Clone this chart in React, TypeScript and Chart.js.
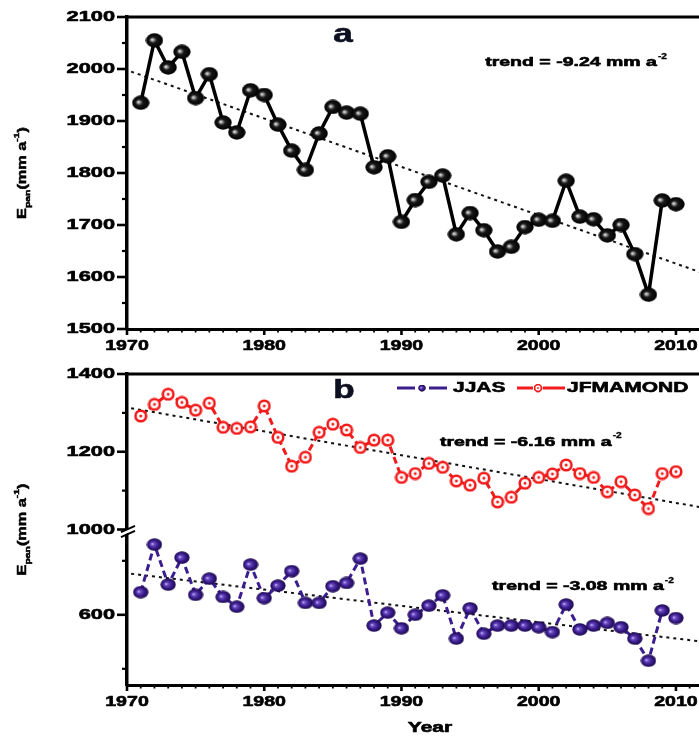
import React, { useEffect, useRef } from "react";
import { Chart, registerables } from "chart.js";

Chart.register(...registerables);

// ---------------- data ----------------
const years = [
  1971, 1972, 1973, 1974, 1975, 1976, 1977, 1978, 1979, 1980,
  1981, 1982, 1983, 1984, 1985, 1986, 1987, 1988, 1989, 1990,
  1991, 1992, 1993, 1994, 1995, 1996, 1997, 1998, 1999, 2000,
  2001, 2002, 2003, 2004, 2005, 2006, 2007, 2008, 2009, 2010,
];
const annualEpan = [
  1935, 2055, 2003, 2033, 1944, 1990, 1897, 1878, 1959, 1950,
  1893, 1843, 1806, 1876, 1927, 1916, 1914, 1811, 1832, 1706,
  1748, 1783, 1795, 1682, 1723, 1690, 1649, 1658, 1696, 1710,
  1708, 1785, 1716, 1711, 1680, 1700, 1644, 1566, 1747, 1740,
];
const jfmamond = [
  1292, 1322, 1348, 1327, 1307, 1325, 1263, 1260, 1264, 1318,
  1237, 1163, 1186, 1250, 1271, 1256, 1211, 1230, 1230, 1134,
  1144, 1170, 1160, 1125, 1114, 1132, 1071, 1083, 1119, 1134,
  1143, 1166, 1144, 1134, 1097, 1123, 1089, 1054, 1144, 1149,
];
const jjas = [
  642, 730, 656, 706, 637, 667, 633, 615, 693, 631,
  654, 681, 622, 622, 653, 659, 704, 580, 604, 575,
  600, 617, 636, 556, 612, 565, 580, 580, 580, 577,
  568, 619, 573, 580, 585, 577, 556, 515, 608, 594,
];
const trendYears = [1970.3, 2011.7];
const annualTrend = [1995, 1610];
const jfmamondTrend = [1312, 1058];
const jjasTrend = [676, 551];

const xMajorTicks = [1970, 1980, 1990, 2000, 2010];
const yMajorA = [1500, 1600, 1700, 1800, 1900, 2000, 2100];
const yMinorA = [1550, 1650, 1750, 1850, 1950, 2050];
const yMajorUp = [1000, 1200, 1400];
const yMinorUp = [1100, 1300];
const yMajorLow = [600];
const yMinorLow = [500, 700];

const trendTextA = "trend = -9.24 mm a";
const trendTextJF = "trend = -6.16 mm a";
const trendTextJJ = "trend = -3.08 mm a";
const trendSup = "-2";

// ---------------- styling helpers ----------------
const FONT = '"Liberation Sans", Arial, Helvetica, sans-serif';
const RED = "#f21a1a";
const PURPLE = "#3a1d8e";

function xMinorTicks(): number[] {
  const out: number[] = [];
  for (let y = 1971; y <= 2011; y++) if (y % 10 !== 0) out.push(y);
  return out;
}

function makeSphere(w: number, h: number, stops: [number, string][]) {
  const c = document.createElement("canvas");
  c.width = w;
  c.height = h;
  const g = c.getContext("2d")!;
  g.translate(w / 2, h / 2);
  g.scale(w / h, 1);
  const r = h / 2 - 0.3;
  const grad = g.createRadialGradient(-r * 0.3, -r * 0.1, 0, 0, 0, r);
  for (const [o, col] of stops) grad.addColorStop(o, col);
  g.fillStyle = grad;
  g.beginPath();
  g.arc(0, 0, r, 0, Math.PI * 2);
  g.fill();
  return c;
}

function makeRing(size: number, r: number, lw: number, dot: number) {
  const c = document.createElement("canvas");
  c.width = size;
  c.height = size;
  const g = c.getContext("2d")!;
  g.translate(size / 2, size / 2);
  g.fillStyle = "#fff";
  g.beginPath();
  g.arc(0, 0, r, 0, Math.PI * 2);
  g.fill();
  g.strokeStyle = RED;
  g.lineWidth = lw;
  g.stroke();
  g.fillStyle = RED;
  g.beginPath();
  g.arc(0, 0, dot, 0, Math.PI * 2);
  g.fill();
  return c;
}

function sText(
  ctx: CanvasRenderingContext2D,
  s: string,
  x: number,
  y: number,
  size: number,
  sx: number,
  align: "left" | "right" | "center",
  baseline: CanvasTextBaseline = "middle",
  color = "#000",
  stroke = 0.6
) {
  ctx.save();
  ctx.font = `bold ${size}px ${FONT}`;
  ctx.fillStyle = color;
  ctx.strokeStyle = color;
  ctx.lineWidth = stroke;
  ctx.lineJoin = "round";
  ctx.textBaseline = baseline;
  ctx.textAlign = "left";
  const w = ctx.measureText(s).width * sx;
  const x0 = align === "left" ? x : align === "right" ? x - w : x - w / 2;
  ctx.translate(x0, y);
  ctx.scale(sx, 1);
  ctx.fillText(s, 0, 0);
  if (stroke > 0) ctx.strokeText(s, 0, 0);
  ctx.restore();
  return w;
}

function line(ctx: CanvasRenderingContext2D, x1: number, y1: number, x2: number, y2: number, lw: number, col = "#000") {
  ctx.save();
  ctx.strokeStyle = col;
  ctx.lineWidth = lw;
  ctx.beginPath();
  ctx.moveTo(x1, y1);
  ctx.lineTo(x2, y2);
  ctx.stroke();
  ctx.restore();
}

function drawTrend(ctx: CanvasRenderingContext2D, s: string, x: number, y: number) {
  const w = sText(ctx, s, x, y, 13, 1.5, "left");
  sText(ctx, trendSup, x + w + 1, y - 6, 8.5, 1.2, "left", "middle", "#000", 0.3);
}

function drawYTitle(ctx: CanvasRenderingContext2D, xBase: number, yCenter: number) {
  const parts = [
    { t: "E", size: 12.5, dy: 0 },
    { t: "pan", size: 8, dy: 4 },
    { t: "(mm a", size: 12.5, dy: 0 },
    { t: "-1", size: 8, dy: -7 },
    { t: ")", size: 12.5, dy: 0 },
  ];
  const sx = 1.3;
  ctx.save();
  ctx.translate(xBase, yCenter);
  ctx.rotate(-Math.PI / 2);
  ctx.fillStyle = "#000";
  ctx.strokeStyle = "#000";
  ctx.lineWidth = 0.5;
  ctx.textBaseline = "alphabetic";
  let total = 0;
  const ws = parts.map((p) => {
    ctx.font = `bold ${p.size}px ${FONT}`;
    const w = ctx.measureText(p.t).width * sx;
    total += w;
    return w;
  });
  let x = -total / 2;
  parts.forEach((p, i) => {
    ctx.font = `bold ${p.size}px ${FONT}`;
    ctx.save();
    ctx.translate(x, p.dy);
    ctx.scale(sx, 1);
    ctx.fillText(p.t, 0, 0);
    ctx.strokeText(p.t, 0, 0);
    ctx.restore();
    x += ws[i];
  });
  ctx.restore();
}

type YSpec = { id: string; major: number[]; minor: number[] };
type DecorCfg = {
  y: YSpec[];
  letter: { t: string; dx: number; dy: number };
  trends: { t: string; sid: string; x: number; y: number }[];
  breakAt?: string;
  legend?: boolean;
  xTitle?: string;
  ring?: HTMLCanvasElement;
  sphere?: HTMLCanvasElement;
};

function makeDecor(cfg: DecorCfg) {
  return {
    id: "decor",
    afterDraw(chart: any) {
      const ctx: CanvasRenderingContext2D = chart.ctx;
      const ca = chart.chartArea;
      // top frame line
      line(ctx, ca.left - 2, ca.top, ca.right, ca.top, 3);
      // y ticks + labels
      for (const ys of cfg.y) {
        const s = chart.scales[ys.id];
        for (const v of ys.major) {
          const p = s.getPixelForValue(v);
          line(ctx, ca.left - 10, p, ca.left, p, 2.6);
          sText(ctx, String(v), ca.left - 12, p, 14.5, 1.5, "right");
        }
        for (const v of ys.minor) {
          const p = s.getPixelForValue(v);
          line(ctx, ca.left - 5, p, ca.left, p, 2.2);
        }
      }
      // x ticks + labels
      const xs = chart.scales.x;
      for (const v of xMajorTicks) {
        const p = xs.getPixelForValue(v);
        line(ctx, p, ca.bottom, p, ca.bottom + 6, 2.6);
        sText(ctx, String(v), p, ca.bottom + 17, 14.5, 1.35, "center");
      }
      for (const v of xMinorTicks()) {
        const p = xs.getPixelForValue(v);
        if (p > ca.right) continue;
        line(ctx, p, ca.bottom, p, ca.bottom + 3.5, 1.8);
      }
      // y title
      drawYTitle(ctx, 26, (ca.top + ca.bottom) / 2);
      // panel letter
      sText(ctx, cfg.letter.t, ca.left + cfg.letter.dx, ca.top + cfg.letter.dy, 26, 1.35, "center", "alphabetic", "#0d1020");
      // trend texts
      for (const tr of cfg.trends) {
        const x = xs.getPixelForValue(tr.x);
        const y = chart.scales[tr.sid].getPixelForValue(tr.y);
        drawTrend(ctx, tr.t, x, y);
      }
      // axis break
      if (cfg.breakAt) {
        const yb = chart.scales[cfg.breakAt].bottom + 3;
        const x0 = ca.left;
        ctx.save();
        ctx.fillStyle = "#fff";
        ctx.beginPath();
        ctx.moveTo(x0 - 6, yb + 1 + 2.7);
        ctx.lineTo(x0 + 8, yb + 1 - 3.6);
        ctx.lineTo(x0 + 8, yb - 3 - 3.6);
        ctx.lineTo(x0 - 6, yb - 3 + 2.7);
        ctx.closePath();
        ctx.fill();
        ctx.restore();
        line(ctx, x0 - 6, yb + 2 + 2.7, x0 + 8, yb + 2 - 3.6, 2);
        line(ctx, x0 - 6, yb - 3 + 2.7, x0 + 8, yb - 3 - 3.6, 2);
      }
      // legend
      if (cfg.legend) {
        const ly = ca.top + 14;
        const ds = chart.data.datasets;
        const jj = ds.find((d: any) => d.label === "JJAS");
        const jf = ds.find((d: any) => d.label === "JFMAMOND");
        const lx1 = ca.left + 270;
        line(ctx, lx1, ly, lx1 + 18, ly, 3, PURPLE);
        line(ctx, lx1 + 32, ly, lx1 + 50, ly, 3, PURPLE);
        if (cfg.sphere) ctx.drawImage(cfg.sphere, lx1 + 25 - 4, ly - 3.5, 8, 7);
        sText(ctx, jj ? jj.label : "JJAS", lx1 + 56, ly, 15, 1.4, "left");
        const lx2 = ca.left + 390;
        line(ctx, lx2, ly, lx2 + 16, ly, 3, RED);
        line(ctx, lx2 + 26, ly, lx2 + 48, ly, 3, RED);
        if (cfg.ring) ctx.drawImage(cfg.ring, lx2 + 21 - 4.5, ly - 4.5, 9, 9);
        sText(ctx, jf ? jf.label : "JFMAMOND", lx2 + 50, ly, 15, 1.4, "left");
      }
      if (cfg.xTitle) {
        sText(ctx, cfg.xTitle, ca.left + 303, ca.bottom + 43, 15, 1.4, "center");
      }
    },
  };
}

const toXY = (xs: number[], ys: number[]) => xs.map((x, i) => ({ x, y: ys[i] }));

const X_MIN = 1970;
const X_MAX = 2011.68;

export default function App() {
  const topRef = useRef<HTMLCanvasElement>(null);
  const botRef = useRef<HTMLCanvasElement>(null);

  useEffect(() => {
    const blackSphere = makeSphere(18, 15, [
      [0, "#ffffff"],
      [0.16, "#a0a0a0"],
      [0.42, "#181818"],
      [1, "#000000"],
    ]);
    const purpleSphere = makeSphere(16, 13, [
      [0, "#e0d6ff"],
      [0.22, "#7050c8"],
      [0.6, "#3a1c8c"],
      [1, "#1c0a4c"],
    ]);
    const redRing = makeRing(14, 5.3, 2.6, 1.5);

    const xScale = (h: number) => ({
      type: "linear" as const,
      min: X_MIN,
      max: X_MAX,
      grid: { display: false },
      border: { display: true, color: "#000", width: 3 },
      ticks: { display: false },
      afterFit: (s: any) => {
        s.height = h;
        s.paddingLeft = 0;
        s.paddingRight = 0;
      },
    });
    const yScale = (min: number, max: number, extra: any = {}) => ({
      type: "linear" as const,
      position: "left" as const,
      min,
      max,
      grid: { display: false },
      border: { display: true, color: "#000", width: 3.5 },
      ticks: { display: false },
      afterFit: (s: any) => {
        s.width = 127;
        s.paddingTop = 0;
        s.paddingBottom = 0;
      },
      ...extra,
    });

    const top = new Chart(topRef.current!, {
      type: "line",
      data: {
        datasets: [
          {
            label: "Epan",
            data: toXY(years, annualEpan),
            borderColor: "#000",
            borderWidth: 3.5,
            pointStyle: blackSphere as any,
            pointRadius: 8,
            tension: 0,
            order: 0,
          },
          {
            label: "trend",
            data: toXY(trendYears, annualTrend),
            borderColor: "#111",
            borderWidth: 2,
            borderDash: [3, 4],
            pointRadius: 0,
            order: 1,
          },
        ],
      },
      options: {
        animation: false,
        responsive: false,
        devicePixelRatio: 1,
        events: [],
        layout: { autoPadding: false, padding: { top: 17, left: 0, right: 0, bottom: 0 } },
        plugins: { legend: { display: false }, tooltip: { enabled: false } },
        scales: {
          x: xScale(27),
          y: yScale(1500, 2100),
        } as any,
      },
      plugins: [
        makeDecor({
          y: [{ id: "y", major: yMajorA, minor: yMinorA }],
          letter: { t: "a", dx: 216, dy: 25 },
          trends: [{ t: trendTextA, sid: "y", x: 1996.1, y: 2013 }],
        }),
      ],
    });

    const bottom = new Chart(botRef.current!, {
      type: "line",
      data: {
        datasets: [
          {
            label: "JFMAMOND",
            data: toXY(years, jfmamond),
            yAxisID: "yUp",
            borderColor: RED,
            borderWidth: 3,
            borderDash: [7, 4],
            pointStyle: redRing as any,
            pointRadius: 7,
            tension: 0,
            order: 0,
          },
          {
            label: "JJAS",
            data: toXY(years, jjas),
            yAxisID: "yLow",
            borderColor: PURPLE,
            borderWidth: 3,
            borderDash: [7, 4],
            pointStyle: purpleSphere as any,
            pointRadius: 7,
            tension: 0,
            order: 0,
          },
          {
            label: "JFMAMOND trend",
            data: toXY(trendYears, jfmamondTrend),
            yAxisID: "yUp",
            borderColor: "#111",
            borderWidth: 2,
            borderDash: [3, 4],
            pointRadius: 0,
            order: 1,
          },
          {
            label: "JJAS trend",
            data: toXY(trendYears, jjasTrend),
            yAxisID: "yLow",
            borderColor: "#111",
            borderWidth: 2,
            borderDash: [3, 4],
            pointRadius: 0,
            order: 1,
          },
        ],
      },
      options: {
        animation: false,
        responsive: false,
        devicePixelRatio: 1,
        events: [],
        layout: { autoPadding: false, padding: { top: 18, left: 0, right: 0, bottom: 0 } },
        plugins: { legend: { display: false }, tooltip: { enabled: false } },
        scales: {
          x: xScale(51),
          yLow: yScale(470, 758, { stack: "b", stackWeight: 1 }),
          yUp: yScale(1000, 1400, { stack: "b", stackWeight: 1 }),
        } as any,
      },
      plugins: [
        makeDecor({
          y: [
            { id: "yUp", major: yMajorUp, minor: yMinorUp },
            { id: "yLow", major: yMajorLow, minor: yMinorLow },
          ],
          letter: { t: "b", dx: 217, dy: 24 },
          trends: [
            { t: trendTextJF, sid: "yUp", x: 1992.8, y: 1225 },
            { t: trendTextJJ, sid: "yLow", x: 1996.6, y: 652 },
          ],
          breakAt: "yUp",
          legend: true,
          xTitle: "Year",
          ring: redRing,
          sphere: purpleSphere,
        }),
      ],
    });

    return () => {
      top.destroy();
      bottom.destroy();
    };
  }, []);

  return (
    <div
      style={{
        position: "fixed",
        left: 0,
        top: 0,
        width: 699,
        height: 736,
        background: "#fff",
        overflow: "hidden",
      }}
    >
      <canvas ref={topRef} width={699} height={356} style={{ display: "block", width: 699, height: 356 }} />
      <canvas ref={botRef} width={699} height={380} style={{ display: "block", width: 699, height: 380 }} />
    </div>
  );
}
